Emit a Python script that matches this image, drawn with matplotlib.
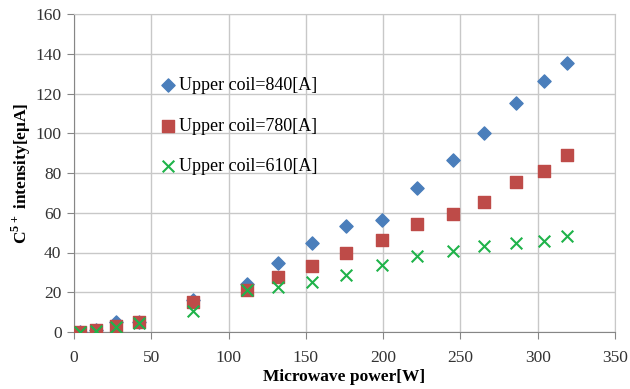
import numpy as np
import matplotlib
matplotlib.use("Agg")
import matplotlib.pyplot as plt

plt.rcParams['font.family'] = ['Liberation Serif', 'DejaVu Serif']
plt.rcParams['mathtext.fontset'] = 'custom'
plt.rcParams['mathtext.rm'] = 'Liberation Serif:bold'
plt.rcParams['mathtext.bf'] = 'Liberation Serif:bold'

# microwave power [W]
power = [4, 14, 27, 42, 77, 112, 132, 154, 176, 199, 222, 245, 265, 286, 304, 319]

# C5+ intensity [euA]
coil_840 = [0, 1, 5, 5, 16, 24, 34.5, 45, 53.5, 56.5, 72.5, 86.5, 100, 115, 126.5, 135.5]
coil_780 = [0, 1, 3, 5, 15, 21, 27.5, 33, 40, 46.5, 54.5, 59.5, 65.5, 75.5, 81, 89]
coil_610 = [0, 0.5, 2.5, 4.5, 10.5, 21, 22.5, 25, 28.5, 33.5, 38, 41, 43.5, 45, 46, 48.5]

labels = ["Upper coil=840[A]", "Upper coil=780[A]", "Upper coil=610[A]"]

fig = plt.figure(figsize=(6.3, 3.89), dpi=100)
ax = fig.add_axes([74/630, 1 - 332/389, 541/630, 318/389])

ax.scatter(power, coil_840, marker="D", s=45, color="#4a7ebb", label=labels[0], zorder=3)
ax.scatter(power, coil_780, marker="s", s=70, color="#be4b48", label=labels[1], zorder=3)
ax.scatter(power, coil_610, marker="x", s=70, color="#1fb34a", linewidths=1.5,
           label=labels[2], zorder=3)

ax.set_xlim(0, 350)
ax.set_ylim(0, 160)
ax.set_xticks(np.arange(0, 351, 50))
ax.set_yticks(np.arange(0, 161, 20))
ax.grid(True, color="#c8c8c8", linewidth=1)
ax.set_axisbelow(True)
for side in ["top", "right"]:
    ax.spines[side].set_color("#c8c8c8")
for side in ["left", "bottom"]:
    ax.spines[side].set_color("#868686")
ax.tick_params(length=5, color="#868686", labelsize=12.5, labelcolor="#333333")
ax.tick_params(axis="x", pad=8)
ax.tick_params(axis="y", pad=4)

ax.set_xlabel("Microwave power[W]", fontsize=12.5, fontweight="bold", labelpad=2)
ax.set_ylabel(r"C$^{5+}$ intensity[eμA]", fontsize=12.5, fontweight="bold", labelpad=2)

ax.legend(loc="upper left", bbox_to_anchor=(0.137, 0.83), frameon=False, fontsize=13,
          labelspacing=1.3, handletextpad=0.0, handlelength=1.2, borderpad=0)

fig.savefig("out.png", dpi=100)
